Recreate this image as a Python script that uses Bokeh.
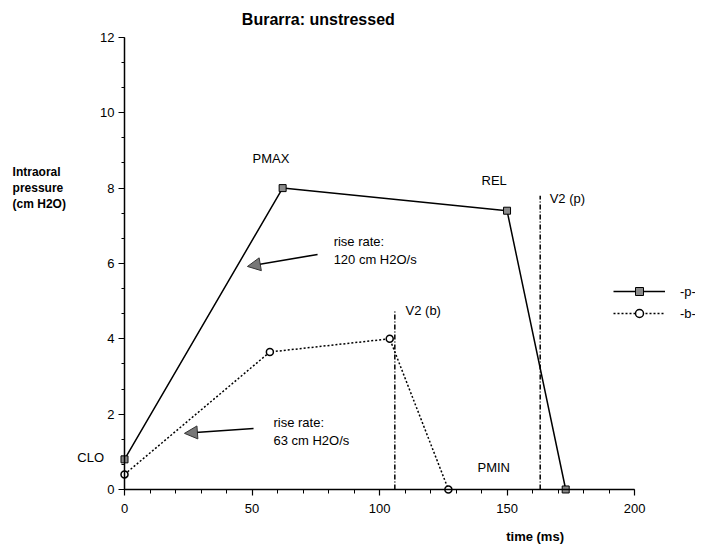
from bokeh.plotting import figure
from bokeh.models import (Label, Legend, LegendItem, Arrow, NormalHead,
                          ColumnDataSource, SingleIntervalTicker, Range1d)
from bokeh.embed import file_html
from bokeh.resources import INLINE

# ---- data ----
p_time = [0, 62, 150, 173]
p_pressure = [0.8, 8.0, 7.4, 0.0]
b_time = [0, 57, 104, 127]
b_pressure = [0.4, 3.65, 4.0, 0.0]
v2_time = [106, 163]
v2_top = [4.75, 7.8]
v2_labels = ["V2 (b)", "V2 (p)"]
x_ticks_interval = 50
y_ticks_interval = 2

FONT = "Liberation Sans"

W, H = 695, 545
# frame covers the whole canvas; axes sit at x=0 / y=0
p = figure(width=W, height=H, output_backend="svg", toolbar_location=None,
           x_range=Range1d(-48.63, 223.9), y_range=Range1d(-1.487, 12.98),
           min_border=0)
p.outline_line_color = None
p.grid.visible = False
p.background_fill_color = "white"

for ax in (p.xaxis, p.yaxis):
    ax.fixed_location = 0
    ax.axis_line_color = "black"
    ax.axis_line_width = 1.5
    ax.major_tick_line_color = "black"
    ax.minor_tick_line_color = "black"
    ax.major_tick_line_width = 1.2
    ax.major_label_text_font = FONT
    ax.major_label_text_font_size = "13px"
    ax.major_label_text_color = "black"
    ax.major_tick_in = 0
    ax.minor_tick_in = 0

p.xaxis.ticker = SingleIntervalTicker(interval=x_ticks_interval, num_minor_ticks=5)
p.yaxis.ticker = SingleIntervalTicker(interval=y_ticks_interval, num_minor_ticks=3)
p.xaxis.bounds = (0, 200)
p.yaxis.bounds = (0, 12)
p.xaxis.major_tick_out = 6
p.xaxis.minor_tick_out = 4
p.yaxis.major_tick_out = 6
p.yaxis.minor_tick_out = 3
p.xaxis.major_label_standoff = 9
p.yaxis.major_label_standoff = 4

# V2 lines
src_v2 = ColumnDataSource(dict(x=v2_time, y0=[0] * len(v2_time), y1=v2_top))
p.segment(x0="x", y0="y0", x1="x", y1="y1", source=src_v2, line_color="black",
          line_width=1.5, line_dash="5 2 1 2")

# series
lp = p.line(p_time, p_pressure, line_color="black", line_width=1.5)
sp = p.scatter(p_time, p_pressure, marker="square", size=7, fill_color="#8a8a8a",
               line_color="black", line_width=1)
lb = p.line(b_time, b_pressure, line_color="black", line_width=1.5, line_dash="2 2")
sb = p.scatter(b_time, b_pressure, marker="circle", size=7, fill_color="white",
               line_color="black", line_width=1.5)

legend = Legend(items=[LegendItem(label="-p-", renderers=[lp, sp]),
                       LegendItem(label="-b-", renderers=[lb, sb])],
                location=(613, 222), orientation="vertical",
                glyph_width=52, glyph_height=20, label_height=20, spacing=2,
                label_standoff=15, padding=0, margin=0,
                border_line_color=None, background_fill_alpha=0,
                label_text_font=FONT, label_text_font_size="13px",
                label_text_color="black")
p.add_layout(legend)


def lab(x, y, text, size="13px", bold=False, align="left"):
    p.add_layout(Label(x=x, y=y, text=text, text_font=FONT, text_font_size=size,
                       text_font_style="bold" if bold else "normal",
                       text_align=align, text_baseline="middle", text_color="black"))


# title and axis labels
lab(76, 12.48, "Burarra: unstressed", size="16px", bold=True, align="center")
lab(-43.9, 8.42, "Intraoral", size="12px", bold=True)
lab(-43.9, 7.99, "pressure", size="12px", bold=True)
lab(-43.9, 7.57, "(cm H2O)", size="12px", bold=True)
lab(161, -1.25, "time (ms)", size="13px", bold=True, align="center")

# annotations
lab(50.2, 8.79, "PMAX")
lab(140, 8.2, "REL")
lab(-18.5, 0.85, "CLO")
lab(138.4, 0.58, "PMIN")
lab(v2_time[0] + 4.2, v2_top[0], v2_labels[0])
lab(v2_time[1] + 3.7, v2_top[1] - 0.08, v2_labels[1])
lab(82, 6.58, "rise rate:")
lab(82, 6.1, "120 cm H2O/s")
lab(58.4, 1.78, "rise rate:")
lab(58.4, 1.3, "63 cm H2O/s")

p.add_layout(Arrow(end=NormalHead(size=13, fill_color="#777777", line_color="#333333"),
                   x_start=75.7, y_start=6.24, x_end=48.2, y_end=5.92,
                   line_color="black", line_width=1.5))
p.add_layout(Arrow(end=NormalHead(size=13, fill_color="#777777", line_color="#333333"),
                   x_start=50.6, y_start=1.62, x_end=23.5, y_end=1.49,
                   line_color="black", line_width=1.5))

open("out.html", "w").write(file_html(p, INLINE))
